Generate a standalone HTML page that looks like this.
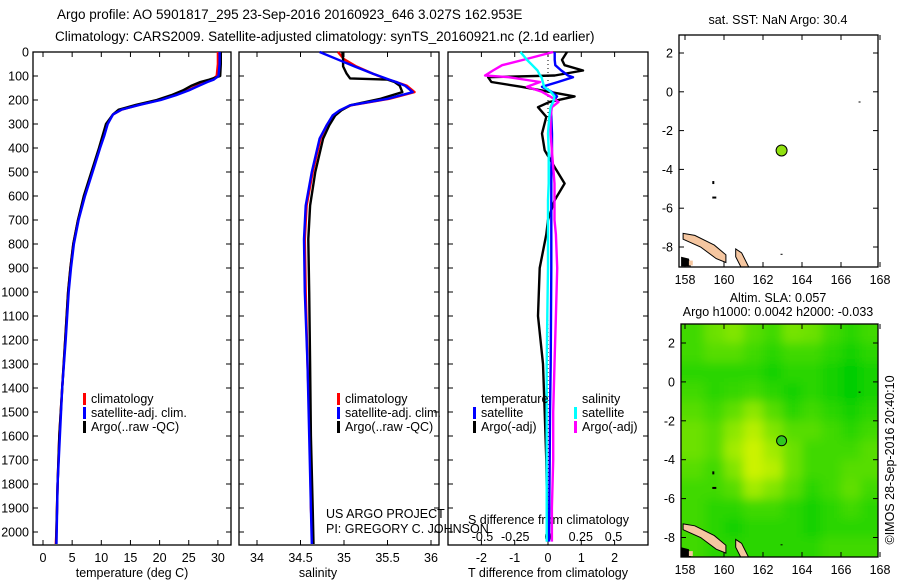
<!DOCTYPE html>
<html><head><meta charset="utf-8"><style>
html,body{margin:0;padding:0;background:#fff}
svg{display:block;font-family:"Liberation Sans",sans-serif}
text{fill:#000}
</style></head><body>
<svg id="c" width="900" height="580" viewBox="0 0 900 580">
<defs>
<clipPath id="cp2"><rect x="681" y="324" width="197" height="233"/></clipPath>
<clipPath id="cp1"><rect x="679" y="35" width="199" height="232"/></clipPath>
<filter id="bl"><feGaussianBlur stdDeviation="5"/></filter>
</defs>
<text x="57" y="19" font-size="13.5">Argo profile: AO 5901817_295 23-Sep-2016 20160923_646 3.027S 162.953E</text>
<text x="55" y="41" font-size="13.5">Climatology: CARS2009. Satellite-adjusted climatology: synTS_20160921.nc (2.1d earlier)</text>
<g id="g"></g>
</svg>
<script>
// ---- temperature panel data ----
const depthT = [0,50,100,115,125,140,160,180,200,220,240,260,300,350,400,500,600,700,800,900,1000,1200,1400,1600,1800,2000,2050];
const tempArgo = [30.5,30.5,30.4,28.5,27,25.5,24,22,19.5,16,13,12,10.8,10.2,9.6,8.3,7.0,6.0,5.2,4.7,4.3,3.8,3.3,2.8,2.5,2.3,2.3];
const tempClim = [30.0,30.0,29.8,29.0,27.8,26.5,24.8,22.5,20,16.5,13.5,12,11,10.4,9.7,8.4,7.1,6.0,5.2,4.7,4.3,3.8,3.3,2.8,2.5,2.3,2.2];
const tempSat = [30.3,30.3,30.1,29.3,28.2,26.8,25,22.8,20.2,16.6,13.5,12,11.1,10.5,9.8,8.5,7.2,6.1,5.3,4.8,4.4,3.9,3.3,2.9,2.5,2.35,2.3];
// ---- salinity panel data ----
const depthS = [0,30,60,90,110,115,125,140,167,195,222,243,264,306,361,500,640,780,1000,1300,1600,1900,2050];
const salSat = [34.72,34.92,35.12,35.33,35.48,35.52,35.6,35.7,35.79,35.5,35.07,34.95,34.87,34.8,34.72,34.63,34.56,34.54,34.55,34.58,34.6,34.62,34.63];
const salClim = [34.93,35.0,35.14,35.33,35.47,35.51,35.6,35.72,35.81,35.52,35.08,34.96,34.88,34.8,34.73,34.64,34.57,34.55,34.56,34.58,34.61,34.62,34.64];
const salArgo = [34.98,34.99,34.99,35.03,35.07,35.5,35.58,35.64,35.67,35.42,35.07,34.97,34.9,34.83,34.76,34.67,34.61,34.59,34.6,34.61,34.62,34.64,34.65];
// ---- difference panel data ----
const depthD = [0,33,55,77,98,105,125,145,165,185,208,230,270,340,410,480,548,617,700,760,900,1100,1300,1500,1700,1900,2040];
const dTArgo = [0.57,0.42,0.5,1.05,0.2,-1.8,-1.7,-0.8,0,0.8,0.05,-0.3,-0.05,-0.18,-0.1,0.2,0.5,0.2,0,-0.05,-0.25,-0.3,-0.15,-0.1,-0.05,-0.03,-0.02];
const dTSat = [0.2,0.2,0.22,0.4,0.6,0.75,0.3,-0.18,0.1,0.27,0.15,0.08,0.1,0.12,0.12,0.1,0.1,0.1,0.1,0.1,0.1,0.09,0.08,0.06,0.05,0.04,0.03];
const dSArgo = [0.04,-0.19,-0.35,-0.42,-0.48,-0.3,-0.06,-0.16,-0.05,0.015,0.08,0.03,0.02,0.02,0.03,0.04,0.05,0.05,0.05,0.06,0.07,0.06,0.05,0.04,0.04,0.03,0.03];
const dSSat = [-0.21,-0.16,-0.12,-0.08,-0.06,-0.05,-0.04,-0.03,0.02,0.05,0.04,0.02,0.01,0.0,0.005,0.005,0.005,0,0,0,0,-0.005,-0.01,-0.01,-0.01,-0.01,-0.01];
// ---- tick labels ----
const depthTicks = [0,100,200,300,400,500,600,700,800,900,1000,1100,1200,1300,1400,1500,1600,1700,1800,1900,2000];
const tempTicks = [0,5,10,15,20,25,30];
const salTicks = ["34","34.5","35","35.5","36"];
const dTTicks = [-2,-1,0,1,2];
const dSTicks = ["-0.5","-0.25","0","0.25","0.5"];
const latTicks = [2,0,-2,-4,-6,-8];
const lonTicks = [158,160,162,164,166,168];
// ---- map data ----
const floatLon = 162.953, floatLat = -3.027;
const slaLats = [2.5,1.5,0.5,-0.5,-1.5,-2.5,-3.5,-4.5,-5.5,-6.5,-7.5,-8.5];
const slaLons = [158.5,159.5,160.5,161.5,162.5,163.5,164.5,165.5,166.5,167.5];
const slaRows = [
 [0.3,0.5,0.6,0.4,0.3,0.55,0.5,0.3,0.2,0.3],
 [0.3,0.4,0.4,0.3,0.2,0.3,0.3,0.2,0.1,0.2],
 [0.2,0.2,0.2,0.2,0.1,0.2,0.2,0.1,0.0,0.1],
 [0.3,0.2,0.25,0.3,0.2,0.1,0.2,0.1,0.0,0.1],
 [0.4,0.3,0.45,0.65,0.4,0.2,0.3,0.2,0.1,0.2],
 [0.5,0.4,0.65,0.85,0.6,0.4,0.4,0.3,0.2,0.3],
 [0.5,0.4,0.75,0.95,0.75,0.5,0.3,0.3,0.3,0.4],
 [0.4,0.3,0.6,0.95,0.85,0.5,0.3,0.3,0.4,0.4],
 [0.3,0.3,0.4,0.75,0.6,0.4,0.2,0.3,0.45,0.3],
 [0.3,0.2,0.2,0.3,0.3,0.2,0.1,0.2,0.3,0.2],
 [0.3,0.2,0.1,0.2,0.2,0.2,0.1,0.2,0.2,0.2],
 [0.3,0.2,0.2,0.2,0.2,0.2,0.2,0.3,0.3,0.3]];

const NS='http://www.w3.org/2000/svg';
const G=document.getElementById('g');
function el(tag,attrs,parent,txt){const e=document.createElementNS(NS,tag);for(const k in attrs)e.setAttribute(k,attrs[k]);if(txt!==undefined)e.textContent=txt;(parent||G).appendChild(e);return e;}
const yD=d=>52+0.24*d;
const PT={x0:33,x1:231}, PS={x0:239,x1:439}, PD={x0:448,x1:648};
const xT=t=>43+t*5.83;
const xS=s=>257+(s-34)*87;
const xDT=t=>548+t*33.3;
const xDS=s=>548+s*131;
const BOT=545;

function frame(p,name){
  const r=el('rect',{x:p.x0,y:52,width:p.x1-p.x0,height:BOT-52,fill:'none',stroke:'#000','stroke-width':1.3});
  
  
  depthTicks.forEach(d=>{
    el('line',{x1:p.x0,x2:p.x0+5,y1:yD(d),y2:yD(d),stroke:'#000'});
    el('line',{x1:p.x1,x2:p.x1-5,y1:yD(d),y2:yD(d),stroke:'#000'});
  });
}
function line(xs,ds,fx,color,name,w){
  const pts=xs.map((v,i)=>fx(v).toFixed(1)+','+yD(ds[i]).toFixed(1)).join(' ');
  const l=el('polyline',{points:pts,fill:'none',stroke:color,'stroke-width':w||2.4,'stroke-linejoin':'round'});
  
  
}
function text(x,y,s,opts,name){
  const t=el('text',Object.assign({x:x,y:y,'font-size':12.5},opts||{}),G,s);
  
  
  return t;
}
function legendMark(x,y,color,name){
  const r=el('rect',{x:x,y:y,width:3,height:12,fill:color});
  
  
}

// Panel 1 temperature
frame(PT,'temperature-plot-frame');
depthTicks.forEach(d=>text(29,yD(d)+4.5,String(d),{'text-anchor':'end'},'depth-tick-label'));
tempTicks.forEach(t=>{el('line',{x1:xT(t),x2:xT(t),y1:BOT,y2:BOT-5,stroke:'#000'});el('line',{x1:xT(t),x2:xT(t),y1:52,y2:57,stroke:'#000'});text(xT(t),562,String(t),{'text-anchor':'middle'},'temperature-tick-label');});
text(132,577,'temperature (deg C)',{'text-anchor':'middle'},'temperature-axis-title');
line(tempClim,depthT,xT,'#ff0000','temperature-climatology-line');
line(tempArgo,depthT,xT,'#000','temperature-argo-line');
line(tempSat,depthT,xT,'#0000ff','temperature-satellite-line');
legendMark(83,393,'#ff0000','legend-climatology-mark');text(91,403,'climatology',{},'legend-climatology');
legendMark(83,407,'#0000ff','legend-satellite-mark');text(91,417,'satellite-adj. clim.',{},'legend-satellite');
legendMark(83,421,'#000','legend-argo-mark');text(91,431,'Argo(..raw -QC)',{},'legend-argo');

// Panel 2 salinity
frame(PS,'salinity-plot-frame');
salTicks.forEach(s=>{const x=xS(parseFloat(s));el('line',{x1:x,x2:x,y1:BOT,y2:BOT-5,stroke:'#000'});el('line',{x1:x,x2:x,y1:52,y2:57,stroke:'#000'});text(x,562,s,{'text-anchor':'middle'},'salinity-tick-label');});
text(318,577,'salinity',{'text-anchor':'middle'},'salinity-axis-title');
line(salClim,depthS,xS,'#ff0000','salinity-climatology-line');
line(salArgo,depthS,xS,'#000','salinity-argo-line');
line(salSat,depthS,xS,'#0000ff','salinity-satellite-line');
legendMark(337,393,'#ff0000','legend-climatology-mark');text(345,403,'climatology',{},'legend-climatology');
legendMark(337,407,'#0000ff','legend-satellite-mark');text(345,417,'satellite-adj. clim.',{},'legend-satellite');
legendMark(337,421,'#000','legend-argo-mark');text(345,431,'Argo(..raw -QC)',{},'legend-argo');
text(326,518,'US ARGO PROJECT',{},'project-label');
text(326,533,'PI: GREGORY C. JOHNSON',{},'pi-label');

// Panel 3 differences
frame(PD,'difference-plot-frame');
el('line',{x1:548,x2:548,y1:52,y2:BOT,stroke:'#000','stroke-dasharray':'1,3'});
dTTicks.forEach(t=>{const x=xDT(t);el('line',{x1:x,x2:x,y1:BOT,y2:BOT-5,stroke:'#000'});el('line',{x1:x,x2:x,y1:52,y2:57,stroke:'#000'});text(x,562,String(t),{'text-anchor':'middle'},'t-diff-tick-label');});
dSTicks.forEach(s=>text(xDS(parseFloat(s)),541,s,{'text-anchor':'middle'},'s-diff-tick-label'));
text(548,577,'T difference from climatology',{'text-anchor':'middle'},'t-diff-axis-title');
text(468,524,'S difference from climatology',{},'s-diff-axis-title');
line(dTArgo,depthD,xDT,'#000','t-diff-argo-line');
line(dTSat,depthD,xDT,'#0000ff','t-diff-satellite-line');
line(dSArgo,depthD,xDS,'#ff00ff','s-diff-argo-line');
line(dSSat,depthD,xDS,'#00ffff','s-diff-satellite-line');
text(481,403,'temperature',{},'legend-temperature-header');
legendMark(473,407,'#0000ff','legend-t-satellite-mark');text(481,417,'satellite',{},'legend-t-satellite');
legendMark(473,421,'#000','legend-t-argo-mark');text(481,431,'Argo(-adj)',{},'legend-t-argo');
text(582,403,'salinity',{},'legend-salinity-header');
legendMark(574,407,'#00ffff','legend-s-satellite-mark');text(582,417,'satellite',{},'legend-s-satellite');
legendMark(574,421,'#ff00ff','legend-s-argo-mark');text(582,431,'Argo(-adj)',{},'legend-s-argo');

// Maps
function map(b,name,latTop,pxLat){
  const xL=lon=>685+(lon-158)*19.5;
  const yL=lat=>latTop+(2-lat)*pxLat;
  return {xL,yL};
}
function mapFrame(b,m,name){
  const r=el('rect',{x:b.x,y:b.y,width:b.w,height:b.h,fill:'none',stroke:'#000','stroke-width':1.3});
  
  
  latTicks.forEach(l=>{const y=m.yL(l);el('line',{x1:b.x,x2:b.x+5,y1:y,y2:y,stroke:'#000'});el('line',{x1:b.x+b.w,x2:b.x+b.w-5,y1:y,y2:y,stroke:'#000'});text(b.x-6,y+4.5,String(l),{'text-anchor':'end'},'lat-tick-label');});
  lonTicks.forEach(l=>{const x=m.xL(l);el('line',{x1:x,x2:x,y1:b.y+b.h,y2:b.y+b.h-5,stroke:'#000'});el('line',{x1:x,x2:x,y1:b.y,y2:b.y+5,stroke:'#000'});text(x,b.y+b.h+17,String(l),{'text-anchor':'middle'},'lon-tick-label');});
}
function land(m,clip){
  const g=el('g',{'clip-path':'url(#'+clip+')'});
  
  
  const P=(pts)=>pts.map(p=>m.xL(p[0]).toFixed(1)+','+m.yL(p[1]).toFixed(1)).join(' ');
  el('polygon',{points:P([[157.9,-7.3],[158.5,-7.4],[159.5,-7.9],[160.1,-8.4],[160.1,-8.8],[159.6,-8.6],[158.8,-8.0],[157.9,-7.6]]),fill:'#f5c6a0',stroke:'#000','stroke-width':1},g);
  el('polygon',{points:P([[160.6,-8.1],[160.9,-8.3],[161.3,-9.1],[160.9,-9.1],[160.6,-8.5]]),fill:'#f5c6a0',stroke:'#000','stroke-width':1},g);
  el('polygon',{points:P([[157.8,-8.5],[158.2,-8.6],[158.3,-9.0],[157.8,-9.0]]),fill:'#000'},g);
  el('polygon',{points:P([[158.2,-8.7],[158.4,-8.7],[158.4,-8.95],[158.2,-8.95]]),fill:'#f5c6a0'},g);
  el('rect',{x:m.xL(159.4),y:m.yL(-4.6),width:2,height:3,fill:'#000'},g);
  el('rect',{x:m.xL(159.4),y:m.yL(-5.4),width:4,height:2,fill:'#000'},g);
  el('rect',{x:m.xL(166.9),y:m.yL(-0.5),width:2,height:1,fill:'#000'},g);
  el('rect',{x:m.xL(162.9),y:m.yL(-8.35),width:2,height:1,fill:'#000'},g);
}
// map 1 (SST)
const b1={x:679,y:35,w:199,h:232};
const m1=map(b1,'sst',53,19.4);
text(778,24,'sat. SST: NaN Argo: 30.4',{'text-anchor':'middle'},'sst-map-title');
land(m1,'cp1');
mapFrame(b1,m1,'sst-map-frame');
const f1=el('circle',{cx:m1.xL(floatLon),cy:m1.yL(floatLat),r:5.5,fill:'#90e010',stroke:'#000','stroke-width':1});



// map 2 (SLA)
const b2={x:681,y:324,w:197,h:233};
const m2=map(b2,'sla',343,19.45);
text(778,302,'Altim. SLA: 0.057',{'text-anchor':'middle'},'sla-map-title');
text(778,316,'Argo h1000: 0.0042 h2000: -0.033',{'text-anchor':'middle'},'sla-map-subtitle');
const cg=el('g',{'clip-path':'url(#cp2)'});


el('rect',{x:b2.x,y:b2.y,width:b2.w,height:b2.h,fill:'#20d810'},cg);
const fg=el('g',{filter:'url(#bl)'},cg);
function col(v){const r=Math.round(v*215),g=Math.round(205+v*40),b=0;return 'rgb('+r+','+g+','+b+')';}
slaRows.forEach((row,i)=>row.forEach((v,j)=>{
  el('rect',{x:m2.xL(slaLons[j]-0.5)-(j==0?20:0),y:m2.yL(slaLats[i]+0.5)-(i==0?20:0),width:19.5+(j==0||j==row.length-1?20:0)+1,height:19.45+(i==0||i==slaRows.length-1?20:0)+1,fill:col(v)},fg);
}));
land(m2,'cp2');
mapFrame(b2,m2,'sla-map-frame');
const f2=el('circle',{cx:m2.xL(floatLon),cy:m2.yL(floatLat),r:5,fill:'#30c820',stroke:'#000','stroke-width':1});


text(0,0,'©IMOS 28-Sep-2016 20:40:10',{'text-anchor':'middle',transform:'translate(894,460) rotate(-90)'},'imos-credit');
</script>
</body></html>
